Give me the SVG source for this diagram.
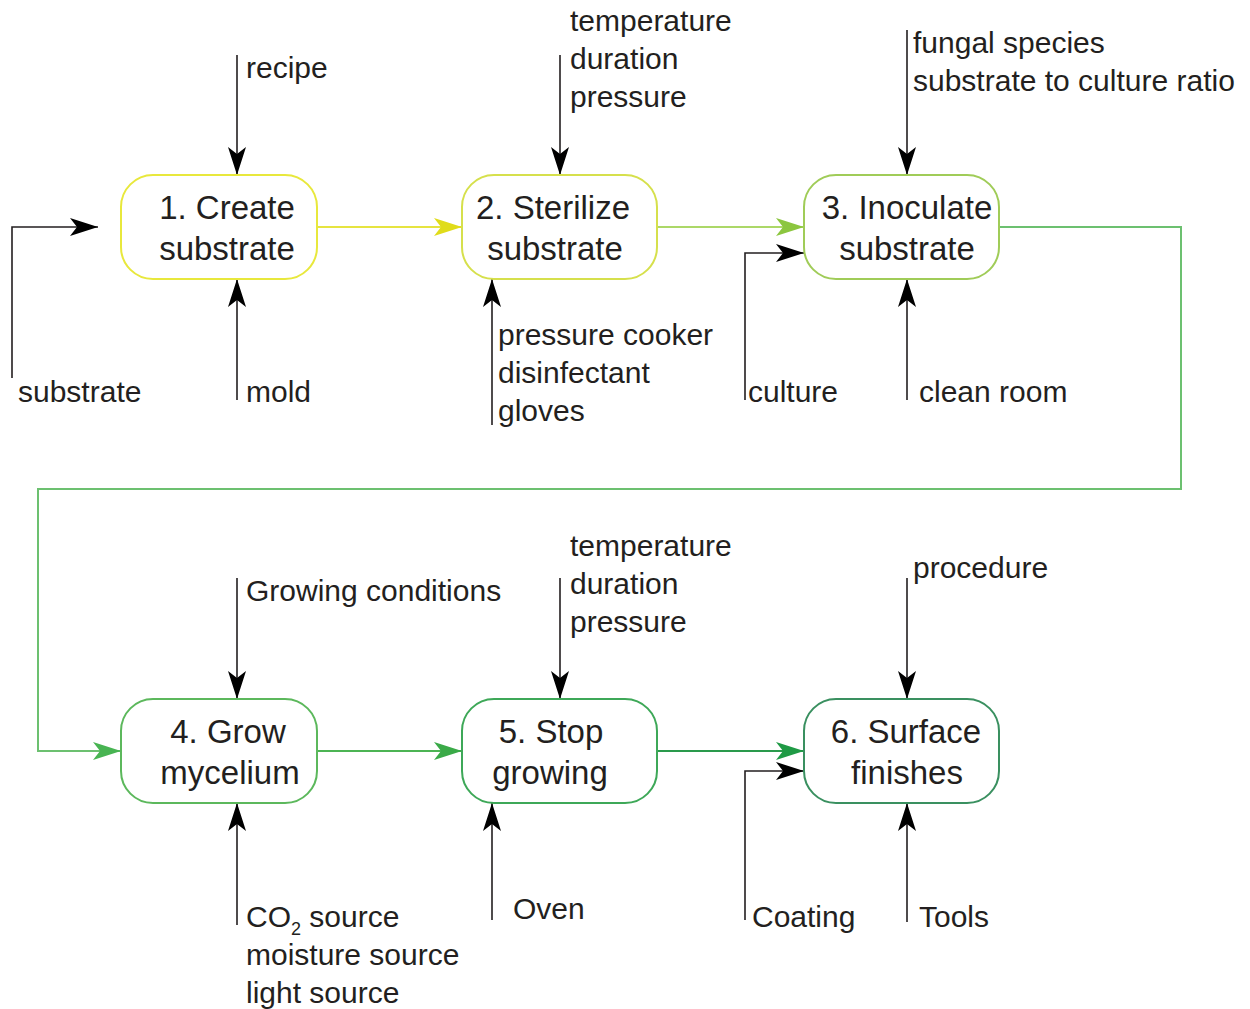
<svg xmlns="http://www.w3.org/2000/svg" width="1250" height="1009" viewBox="0 0 1250 1009">
<style>
.box{fill:#fff;stroke-width:2}
.bt{font-family:"Liberation Sans",Arial,sans-serif;font-size:33px;fill:#231f20;text-anchor:middle}
.lb{font-family:"Liberation Sans",Arial,sans-serif;font-size:30px;fill:#231f20}
.k{fill:none;stroke:#231f20;stroke-width:1.6}
.c{fill:none;stroke-width:2}
</style>
<defs>
<marker id="ak" markerUnits="userSpaceOnUse" markerWidth="28" markerHeight="18" refX="28" refY="9" orient="auto" overflow="visible"><path d="M0,0 L28,9 L0,18 L7,9 Z" fill="#000"/></marker>
<marker id="ay" markerUnits="userSpaceOnUse" markerWidth="28" markerHeight="18" refX="28" refY="9" orient="auto" overflow="visible"><path d="M0,0 L28,9 L0,18 L7,9 Z" fill="#e0dc1a"/></marker>
<marker id="al" markerUnits="userSpaceOnUse" markerWidth="28" markerHeight="18" refX="28" refY="9" orient="auto" overflow="visible"><path d="M0,0 L28,9 L0,18 L7,9 Z" fill="#8cc63f"/></marker>
<marker id="ag" markerUnits="userSpaceOnUse" markerWidth="28" markerHeight="18" refX="28" refY="9" orient="auto" overflow="visible"><path d="M0,0 L28,9 L0,18 L7,9 Z" fill="#48b452"/></marker>
<marker id="ag2" markerUnits="userSpaceOnUse" markerWidth="28" markerHeight="18" refX="28" refY="9" orient="auto" overflow="visible"><path d="M0,0 L28,9 L0,18 L7,9 Z" fill="#3aaa48"/></marker>
<marker id="ad" markerUnits="userSpaceOnUse" markerWidth="28" markerHeight="18" refX="28" refY="9" orient="auto" overflow="visible"><path d="M0,0 L28,9 L0,18 L7,9 Z" fill="#1f9a45"/></marker>
</defs>

<g id="connectors">
<!-- flow -->
<path class="c" stroke="#e6e440" d="M317,227 H462" marker-end="url(#ay)"/>
<path class="c" stroke="#acd868" d="M657,227 H804" marker-end="url(#al)"/>
<path class="c" stroke="#6cc070" d="M999,227 H1181 V489 H38 V751 H121" marker-end="url(#ag)"/>
<path class="c" stroke="#4cb454" d="M317,751 H462" marker-end="url(#ag2)"/>
<path class="c" stroke="#2a9a4c" d="M657,751 H804" marker-end="url(#ad)"/>
<!-- controls / mechanisms row 1 -->
<path class="k" d="M237,55 V175" marker-end="url(#ak)"/>
<path class="k" d="M560,55 V175" marker-end="url(#ak)"/>
<path class="k" d="M907,30 V175" marker-end="url(#ak)"/>
<path class="k" d="M12,378 V227 H98" marker-end="url(#ak)"/>
<path class="k" d="M237,400 V279" marker-end="url(#ak)"/>
<path class="k" d="M492,425 V279" marker-end="url(#ak)"/>
<path class="k" d="M745,400 V253 H804" marker-end="url(#ak)"/>
<path class="k" d="M907,400 V279" marker-end="url(#ak)"/>
<!-- row 2 -->
<path class="k" d="M237,578 V699" marker-end="url(#ak)"/>
<path class="k" d="M560,578 V699" marker-end="url(#ak)"/>
<path class="k" d="M907,578 V699" marker-end="url(#ak)"/>
<path class="k" d="M237,925 V803" marker-end="url(#ak)"/>
<path class="k" d="M492,920 V803" marker-end="url(#ak)"/>
<path class="k" d="M745,920 V771 H804" marker-end="url(#ak)"/>
<path class="k" d="M907,922 V803" marker-end="url(#ak)"/>
</g>

<g id="labels">
<text class="lb" x="246" y="78">recipe</text>
<text class="lb" x="570" y="31">temperature</text>
<text class="lb" x="570" y="69">duration</text>
<text class="lb" x="570" y="107">pressure</text>
<text class="lb" x="913" y="53">fungal species</text>
<text class="lb" x="913" y="91">substrate to culture ratio</text>
<text class="lb" x="18" y="402">substrate</text>
<text class="lb" x="246" y="402">mold</text>
<text class="lb" x="498" y="345">pressure cooker</text>
<text class="lb" x="498" y="383">disinfectant</text>
<text class="lb" x="498" y="421">gloves</text>
<text class="lb" x="748" y="402">culture</text>
<text class="lb" x="919" y="402">clean room</text>
<text class="lb" x="246" y="601">Growing conditions</text>
<text class="lb" x="570" y="556">temperature</text>
<text class="lb" x="570" y="594">duration</text>
<text class="lb" x="570" y="632">pressure</text>
<text class="lb" x="913" y="578">procedure</text>
<text class="lb" x="246" y="927">CO<tspan font-size="18" dy="8">2</tspan><tspan dy="-8"> source</tspan></text>
<text class="lb" x="246" y="965">moisture source</text>
<text class="lb" x="246" y="1003">light source</text>
<text class="lb" x="513" y="919">Oven</text>
<text class="lb" x="752" y="927">Coating</text>
<text class="lb" x="919" y="927">Tools</text>
</g>

<g id="node1">
<rect class="box" x="121" y="175" width="196" height="104" rx="32" stroke="#e8e83c"/>
<text class="bt" x="227" y="219">1. Create</text>
<text class="bt" x="227" y="260">substrate</text>
</g>
<g id="node2">
<rect class="box" x="462" y="175" width="195" height="104" rx="32" stroke="#d6e04c"/>
<text class="bt" x="553" y="219">2. Sterilize</text>
<text class="bt" x="555" y="260">substrate</text>
</g>
<g id="node3">
<rect class="box" x="804" y="175" width="195" height="104" rx="32" stroke="#a0cc58"/>
<text class="bt" x="907" y="219">3. Inoculate</text>
<text class="bt" x="907" y="260">substrate</text>
</g>
<g id="node4">
<rect class="box" x="121" y="699" width="196" height="104" rx="32" stroke="#5cb85c"/>
<text class="bt" x="228" y="743">4. Grow</text>
<text class="bt" x="230" y="784">mycelium</text>
</g>
<g id="node5">
<rect class="box" x="462" y="699" width="195" height="104" rx="32" stroke="#3ea858"/>
<text class="bt" x="551" y="743">5. Stop</text>
<text class="bt" x="550" y="784">growing</text>
</g>
<g id="node6">
<rect class="box" x="804" y="699" width="195" height="104" rx="32" stroke="#3a9060"/>
<text class="bt" x="906" y="743">6. Surface</text>
<text class="bt" x="907" y="784">finishes</text>
</g>
</svg>
